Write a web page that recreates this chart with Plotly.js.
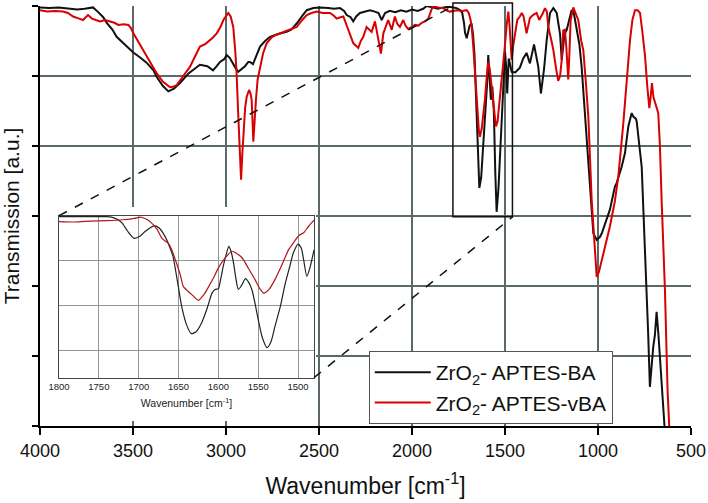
<!DOCTYPE html>
<html>
<head>
<meta charset="utf-8">
<script src="https://cdn.plot.ly/plotly-3.0.1.min.js"></script>
<style>html,body{margin:0;padding:0;background:#fff;}#chart{width:708px;height:503px;}</style>
</head>
<body>
<div id="chart"></div>
<script>
// ---- Main spectrum: ZrO2- APTES-BA (black) ----
const baWavenumber = [4000,3950,3900,3850,3800,3760,3730,3715,3690,3660,3641,3610,3588,3550,3500,3460,3427,3390,3373,3340,3310,3280,3247,3200,3140,3100,3070,3050,3032,3010,2996,2980,2969,2950,2934,2915,2898,2880,2871,2855,2840,2817,2790,2763,2720,2674,2650,2620,2590,2566,2530,2495,2450,2420,2387,2365,2351,2330,2316,2300,2280,2250,2226,2200,2180,2163,2145,2120,2090,2060,2030,2000,1970,1940,1921,1890,1860,1830,1800,1780,1760,1740,1730,1720,1715,1706,1698,1690,1680,1672,1664,1655,1645,1638,1628,1615,1604,1596,1590,1584,1576,1568,1560,1552,1545,1535,1520,1509,1500,1493,1488,1480,1470,1464,1445,1420,1402,1384,1366,1344,1321,1307,1290,1276,1258,1240,1222,1204,1195,1180,1168,1151,1142,1130,1115,1100,1088,1070,1043,1025,1007,990,980,960,945,936,909,900,873,855,846,837,819,810,797,792,765,742,730,721,712,703,694,685,675,663,650,635];
const baTransmission = [5.98,5.97,5.98,5.96,5.95,5.96,5.98,5.98,5.92,5.84,5.76,5.66,5.56,5.46,5.34,5.26,5.19,5.08,4.99,4.86,4.78,4.82,4.90,5.04,5.16,5.14,5.08,5.14,5.20,5.24,5.30,5.26,5.20,5.12,5.06,5.10,5.14,5.20,5.20,5.17,5.28,5.42,5.50,5.56,5.60,5.63,5.66,5.75,5.86,5.94,5.97,5.98,5.97,5.96,5.97,5.93,5.87,5.84,5.78,5.85,5.90,5.92,5.94,5.92,5.90,5.80,5.90,5.93,5.91,5.94,5.92,5.95,5.93,5.96,6.00,5.98,5.96,5.98,5.99,5.98,5.97,5.94,5.90,5.75,5.62,5.54,5.62,5.72,5.75,5.60,5.30,4.60,3.80,3.40,3.55,4.10,4.50,4.90,5.30,5.00,4.66,4.85,4.50,3.60,3.06,3.40,4.30,4.90,5.35,5.10,4.75,5.25,5.15,5.06,5.05,5.12,5.25,5.33,5.18,5.45,5.13,4.75,5.10,5.51,5.90,5.97,5.90,5.60,5.23,5.60,5.66,5.85,5.94,5.90,5.70,5.45,5.13,4.42,3.42,2.75,2.66,2.70,2.75,2.90,3.04,3.09,3.42,3.47,3.70,3.90,4.09,4.28,4.47,4.42,4.39,4.35,3.70,2.28,1.30,0.56,0.90,1.13,1.30,1.63,1.30,0.85,0.30,-0.30];

// ---- Main spectrum: ZrO2- APTES-vBA (red) ----
const vbaWavenumber = [4000,3960,3920,3876,3850,3822,3790,3769,3742,3720,3700,3677,3650,3624,3600,3579,3550,3525,3510,3498,3470,3445,3410,3373,3340,3301,3280,3265,3230,3194,3170,3140,3110,3086,3070,3050,3030,3014,2998,2988,2975,2961,2950,2943,2935,2929,2919,2912,2907,2897,2889,2876,2868,2862,2853,2846,2839,2830,2817,2800,2781,2755,2728,2690,2656,2620,2590,2566,2540,2512,2480,2441,2420,2405,2385,2369,2355,2343,2330,2316,2300,2289,2275,2262,2244,2230,2217,2199,2181,2167,2154,2140,2128,2109,2092,2080,2065,2047,2035,2020,2000,1984,1965,1948,1930,1912,1895,1886,1860,1832,1810,1796,1760,1730,1706,1695,1685,1679,1670,1661,1650,1640,1635,1625,1615,1608,1598,1590,1582,1570,1560,1549,1540,1528,1518,1509,1500,1490,1482,1475,1470,1464,1455,1445,1434,1420,1410,1400,1384,1366,1350,1330,1316,1296,1285,1275,1267,1250,1240,1225,1214,1204,1195,1187,1178,1170,1160,1154,1147,1133,1120,1106,1090,1079,1065,1052,1034,1022,1015,1007,995,980,960,936,910,891,864,845,828,815,801,787,774,760,747,735,724,717,710,702,694,685,676,667,658,640,626,617,610];
const vbaTransmission = [5.94,5.92,5.93,5.92,5.90,5.85,5.82,5.80,5.87,5.82,5.80,5.78,5.80,5.78,5.76,5.73,5.74,5.73,5.68,5.61,5.48,5.37,5.20,5.04,4.92,4.84,4.85,4.87,5.00,5.13,5.26,5.42,5.46,5.51,5.55,5.61,5.70,5.80,5.87,5.90,5.85,5.70,5.35,5.04,4.50,4.04,3.52,3.90,4.18,4.55,4.70,4.80,4.75,4.66,4.06,4.40,4.66,4.95,5.13,5.33,5.47,5.55,5.59,5.63,5.66,5.70,5.80,5.87,5.90,5.92,5.90,5.90,5.86,5.82,5.84,5.85,5.75,5.66,5.55,5.47,5.43,5.40,5.50,5.56,5.70,5.66,5.63,5.78,5.51,5.32,5.61,5.72,5.80,5.66,5.85,5.75,5.70,5.80,5.72,5.67,5.70,5.73,5.72,5.76,5.78,5.82,5.95,6.00,5.98,5.97,5.93,5.92,5.94,5.93,5.94,5.90,5.80,5.70,5.40,4.99,4.50,4.20,4.13,4.25,4.50,4.66,5.00,5.20,5.10,4.80,4.50,4.28,4.35,4.65,4.95,5.13,5.45,5.75,5.92,5.70,5.45,5.23,5.45,5.65,5.80,5.85,5.90,5.85,5.61,5.83,5.87,5.90,5.80,5.90,5.97,5.92,5.70,5.50,5.37,5.10,4.93,5.00,5.23,5.65,5.66,5.40,4.95,5.30,5.80,5.98,5.90,5.80,5.50,5.37,4.90,4.42,3.23,2.66,2.35,2.13,2.20,2.37,2.58,2.85,3.20,3.56,4.32,4.95,5.51,5.80,5.94,5.94,5.90,5.60,5.28,4.85,4.54,4.70,4.90,4.70,4.61,4.55,4.47,4.00,3.23,1.94,0.51,-0.10,-0.40];

// ---- Inset (1800-1480 cm-1) ----
const insetBaWavenumber = [1800,1780,1760,1740,1734,1727,1721,1714,1706,1698,1692,1685,1680,1674,1667,1661,1657,1651,1646,1640,1634,1628,1621,1614,1608,1604,1600,1597,1594,1590,1587,1584,1581,1578,1575,1571,1566,1562,1558,1554,1550,1545,1539,1534,1529,1522,1516,1510,1506,1500,1496,1493,1489,1485,1480];
const insetBaValues = [2.98,2.98,2.98,2.98,2.97,2.92,2.84,2.66,2.50,2.55,2.65,2.74,2.78,2.72,2.54,2.30,2.10,1.50,0.98,0.58,0.38,0.42,0.62,0.95,1.28,1.36,1.38,1.60,1.87,2.15,2.32,2.20,1.95,1.60,1.36,1.45,1.60,1.52,1.36,1.05,0.69,0.30,0.07,0.20,0.54,1.00,1.50,1.90,2.17,2.37,2.28,2.02,1.65,1.85,2.24];
const insetVbaWavenumber = [1800,1780,1760,1740,1720,1705,1698,1690,1684,1677,1671,1667,1663,1658,1654,1648,1644,1638,1633,1625,1618,1612,1606,1600,1592,1583,1576,1570,1562,1554,1548,1543,1537,1529,1520,1512,1505,1499,1493,1487,1480];
const insetVbaValues = [2.87,2.86,2.88,2.89,2.91,2.94,2.97,2.92,2.84,2.70,2.50,2.44,2.39,2.22,2.02,1.70,1.43,1.32,1.24,1.12,1.25,1.43,1.62,1.84,2.05,2.21,2.15,2.06,1.82,1.58,1.38,1.28,1.35,1.58,1.92,2.24,2.42,2.56,2.62,2.76,2.90];

const seriesNames = ['ZrO<sub>2</sub>- APTES-BA', 'ZrO<sub>2</sub>- APTES-vBA'];
const xTitle = 'Wavenumber [cm<sup>-1</sup>]';
const yTitle = 'Transmission [a.u.]';

const FONT = 'Liberation Sans, Arial, Helvetica, sans-serif';
const GRID = '#5c6969';

const traces = [
  {x: baWavenumber, y: baTransmission, type: 'scatter', mode: 'lines', name: seriesNames[0],
   line: {color: '#111111', width: 2}, xaxis: 'x', yaxis: 'y'},
  {x: vbaWavenumber, y: vbaTransmission, type: 'scatter', mode: 'lines', name: seriesNames[1],
   line: {color: '#d80000', width: 2}, xaxis: 'x', yaxis: 'y'},
  {x: insetBaWavenumber, y: insetBaValues, type: 'scatter', mode: 'lines', showlegend: false,
   line: {color: '#222222', width: 1.2, shape: 'spline', smoothing: 0.6}, xaxis: 'x2', yaxis: 'y2'},
  {x: insetVbaWavenumber, y: insetVbaValues, type: 'scatter', mode: 'lines', showlegend: false,
   line: {color: '#b0161c', width: 1.2, shape: 'spline', smoothing: 0.6}, xaxis: 'x2', yaxis: 'y2'}
];

const insetX = [0.0292, 0.4209];
const insetY = [0.115, 0.5007];

const layout = {
  width: 708, height: 503,
  margin: {l: 40, r: 17, t: 6, b: 77},
  paper_bgcolor: '#ffffff', plot_bgcolor: '#ffffff',
  font: {family: FONT, color: '#111'},
  showlegend: true,
  xaxis: {
    domain: [0, 1], anchor: 'y', range: [4000, 500], autorange: false,
    tick0: 500, dtick: 500, showgrid: true, gridcolor: GRID, gridwidth: 1.4,
    zeroline: false, showline: true, linecolor: '#000', linewidth: 2,
    ticks: 'outside', ticklen: 7, tickcolor: '#000', tickwidth: 1.5,
    tickfont: {family: FONT, size: 18, color: '#111'},
    title: {text: xTitle, font: {family: FONT, size: 23, color: '#111'}, standoff: 18}
  },
  yaxis: {
    domain: [0, 1], anchor: 'x', range: [0, 6], autorange: false,
    tick0: 0, dtick: 1, showgrid: true, gridcolor: GRID, gridwidth: 1.4,
    zeroline: false, showline: true, linecolor: '#000', linewidth: 2,
    ticks: 'outside', ticklen: 6, tickcolor: '#000', tickwidth: 1.5,
    showticklabels: false,
    title: {text: yTitle, font: {family: FONT, size: 21, color: '#111'}, standoff: 8}
  },
  xaxis2: {
    domain: insetX, anchor: 'y2', range: [1800, 1480], autorange: false,
    tick0: 1500, dtick: 50, showgrid: true, gridcolor: '#8d9a9a', gridwidth: 1,
    zeroline: false, showline: true, mirror: true, linecolor: '#444', linewidth: 1,
    ticks: '', tickfont: {family: FONT, size: 9.5, color: '#222'},
    title: {text: xTitle, font: {family: FONT, size: 10.5, color: '#222'}, standoff: 8}
  },
  yaxis2: {
    domain: insetY, anchor: 'x2', range: [-0.6, 3], autorange: false,
    tick0: 0, dtick: 1, showgrid: true, gridcolor: '#8d9a9a', gridwidth: 1,
    zeroline: false, showline: true, mirror: true, linecolor: '#444', linewidth: 1,
    ticks: '', showticklabels: false
  },
  legend: {
    x: 0.505, y: 0.1786, xanchor: 'left', yanchor: 'top',
    bgcolor: '#ffffff', bordercolor: '#555', borderwidth: 1,
    font: {family: FONT, size: 21, color: '#111'}, itemwidth: 56
  },
  shapes: [
    // white backing behind the inset figure (hides main grid)
    {type: 'rect', xref: 'x', yref: 'y', x0: 4000, x1: 2516, y0: 0.07, y1: 3.13,
     fillcolor: '#ffffff', line: {width: 0}, layer: 'between'},
    // zoom box on the main spectrum
    {type: 'rect', xref: 'x', yref: 'paper', x0: 1780, x1: 1460, y0: 0.4983, y1: 1.007,
     line: {color: '#111', width: 1.5}, fillcolor: 'rgba(0,0,0,0)', layer: 'above'},
    // dashed connectors
    {type: 'line', xref: 'paper', yref: 'paper', x0: insetX[0], y0: insetY[1], x1: 0.6349, y1: 1.0,
     line: {color: '#111', width: 1.5, dash: 'dash'}, layer: 'above'},
    {type: 'line', xref: 'paper', yref: 'paper', x0: insetX[1], y0: insetY[0], x1: 0.7261, y1: 0.4983,
     line: {color: '#111', width: 1.5, dash: 'dash'}, layer: 'above'}
  ]
};

Plotly.newPlot('chart', traces, layout, {displayModeBar: false, staticPlot: true});
</script>
</body>
</html>
